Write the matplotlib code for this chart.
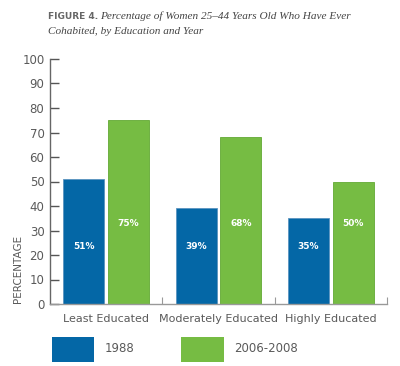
import matplotlib
matplotlib.use("Agg")
import matplotlib.pyplot as plt
from matplotlib.patches import Rectangle
import numpy as np

plt.rcParams["font.family"] = ["DejaVu Sans"]

categories = ["Least Educated", "Moderately Educated", "Highly Educated"]
series_names = ["1988", "2006-2008"]
values_1988 = [51, 39, 35]
values_2006 = [75, 68, 50]
yticks = [0, 10, 20, 30, 40, 50, 60, 70, 80, 90, 100]

BLUE = "#0467a6"
GREEN = "#76bc43"
GRAY = "#5a5a5a"

W, H = 400, 366
fig = plt.figure(figsize=(W / 100, H / 100), dpi=100)
ax = fig.add_axes([50 / W, 1 - 304 / H, 337 / W, 245 / H])

x = np.arange(len(categories))
bw = 0.365
off = 0.2
ax.bar(x - off, values_1988, bw, color=BLUE, edgecolor="#5a93c0", linewidth=0.6)
ax.bar(x + off, values_2006, bw, color=GREEN, edgecolor="#62a934", linewidth=0.6)

label_y_1988 = 23.3
label_y_2006 = 33.0
for xi, v in zip(x, values_1988):
    ax.text(xi - off, label_y_1988, f"{v}%", ha="center", va="center",
            color="white", fontsize=6.5, fontweight="bold")
for xi, v in zip(x, values_2006):
    ax.text(xi + off, label_y_2006, f"{v}%", ha="center", va="center",
            color="white", fontsize=6.5, fontweight="bold")

ax.set_xlim(-0.5, 2.5)
ax.set_ylim(0, 100)
ax.set_yticks(yticks)
ax.set_yticklabels([str(t) for t in yticks])
ax.set_xticks(x)
ax.set_xticklabels(categories)
ax.set_xticks([0.5, 1.5, 2.5], minor=True)

ax.tick_params(axis="y", direction="in", length=6.5, width=1, color="#555555",
               labelsize=8.5, labelcolor=GRAY, pad=4)
ax.tick_params(axis="x", which="major", length=0, labelsize=8, labelcolor=GRAY, pad=7)
ax.tick_params(axis="x", which="minor", direction="in", length=5, width=0.8, color="#999999")

for s in ["top", "right"]:
    ax.spines[s].set_visible(False)
ax.spines["left"].set_color("#666666")
ax.spines["left"].set_linewidth(1)
ax.spines["bottom"].set_color("#999999")
ax.spines["bottom"].set_linewidth(1)

# Title
fig.text(48 / W, 1 - 16.5 / H, "FIGURE 4.", fontsize=6.5, fontweight="bold",
         color="#666666", ha="left", va="center")
fig.text(100 / W, 1 - 16.5 / H, "Percentage of Women 25\u201344 Years Old Who Have Ever",
         fontsize=8.1, style="italic", color="#444444", ha="left", va="center",
         family="Liberation Serif")
fig.text(48 / W, 1 - 31.5 / H, "Cohabited, by Education and Year",
         fontsize=8.1, style="italic", color="#444444", ha="left", va="center",
         family="Liberation Serif")

# Y label
fig.text(18 / W, 1 - 269 / H, "PERCENTAGE", rotation=90, fontsize=7.5,
         color=GRAY, ha="center", va="center")

# Legend
for (x0, x1, col, name, tx) in [(52, 94, BLUE, series_names[0], 105),
                                 (181, 224, GREEN, series_names[1], 234)]:
    fig.add_artist(Rectangle((x0 / W, 1 - 362 / H), (x1 - x0) / W, 25 / H,
                             transform=fig.transFigure, facecolor=col, edgecolor="none"))
    fig.text(tx / W, 1 - 349 / H, name, fontsize=8.5, color=GRAY,
             ha="left", va="center")

fig.savefig("out.png", dpi=100, facecolor="white")
